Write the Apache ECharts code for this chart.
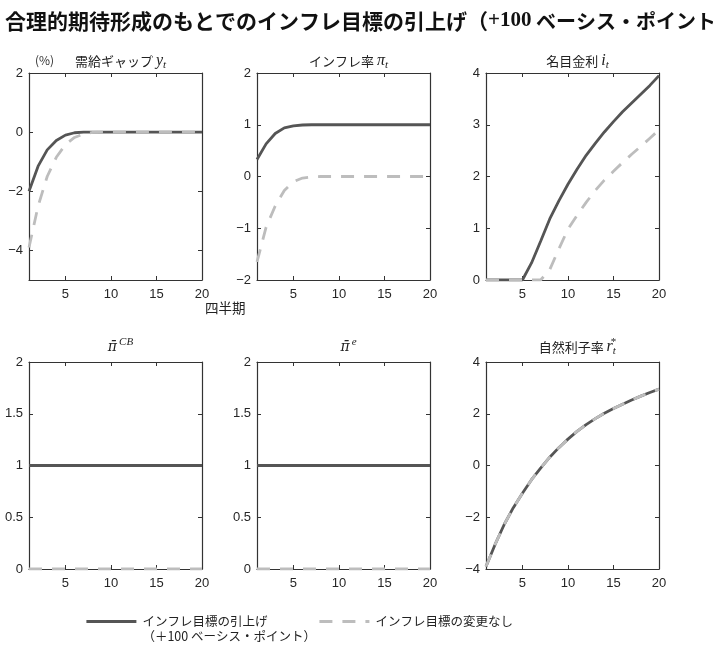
<!DOCTYPE html>
<html>
<head>
<meta charset="utf-8">
<script src="https://cdn.jsdelivr.net/npm/echarts@6/dist/echarts.min.js"></script>
<style>
html,body{margin:0;padding:0;background:#fff;}
#chart{width:713px;height:661px;}
</style>
</head>
<body>
<div id="chart"></div>
<script>
// ---- data ----
const quarters = [1,2,3,4,5,6,7,8,9,10,11,12,13,14,15,16,17,18,19,20];
const seriesNames = ['インフレ目標の引上げ\n（＋100 ベーシス・ポイント）', 'インフレ目標の変更なし'];

const gapRaise    = [-2.0,-1.15,-0.6,-0.28,-0.1,-0.02,0,0,0,0,0,0,0,0,0,0,0,0,0,0];
const gapNoChange = [-3.9,-2.5,-1.5,-0.85,-0.42,-0.18,-0.06,-0.01,0,0,0,0,0,0,0,0,0,0,0,0];

const inflRaise    = [0.33,0.63,0.83,0.94,0.98,0.995,1,1,1,1,1,1,1,1,1,1,1,1,1,1];
const inflNoChange = [-1.65,-0.98,-0.57,-0.27,-0.1,-0.03,-0.01,0,0,0,0,0,0,0,0,0,0,0,0,0];

const rateRaise    = [0,0,0,0,0,0.33,0.75,1.18,1.53,1.85,2.14,2.41,2.64,2.86,3.06,3.25,3.42,3.59,3.76,3.95];
const rateNoChange = [0,0,0,0,0,0,0,0.2,0.6,0.98,1.25,1.5,1.73,1.93,2.1,2.27,2.43,2.58,2.74,2.9];

const cbRaise    = [1,1,1,1,1,1,1,1,1,1,1,1,1,1,1,1,1,1,1,1];
const cbNoChange = [0,0,0,0,0,0,0,0,0,0,0,0,0,0,0,0,0,0,0,0];

const expRaise    = [1,1,1,1,1,1,1,1,1,1,1,1,1,1,1,1,1,1,1,1];
const expNoChange = [0,0,0,0,0,0,0,0,0,0,0,0,0,0,0,0,0,0,0,0];

const natRaise    = [-3.9,-3.05,-2.28,-1.63,-1.07,-0.55,-0.1,0.32,0.69,1.02,1.32,1.58,1.81,2.02,2.2,2.37,2.53,2.68,2.82,2.95];
const natNoChange = [-3.9,-3.05,-2.28,-1.63,-1.07,-0.55,-0.1,0.32,0.69,1.02,1.32,1.58,1.81,2.02,2.2,2.37,2.53,2.68,2.82,2.95];

const xTicks = [5,10,15,20];
const yTicks = [
  [-4,-2,0,2],
  [-2,-1,0,1,2],
  [0,1,2,3,4],
  [0,0.5,1,1.5,2],
  [0,0.5,1,1.5,2],
  [-4,-2,0,2,4]
];
const yRanges = [[-5,2],[-2,2],[0,4],[0,2],[0,2],[-4,4]];
const panelData = [
  [gapRaise, gapNoChange],
  [inflRaise, inflNoChange],
  [rateRaise, rateNoChange],
  [cbRaise, cbNoChange],
  [expRaise, expNoChange],
  [natRaise, natNoChange]
];
const panelTitles = [
  '{j|需給ギャップ }{m|y}{sub|t}',
  '{j|インフレ率 }{m|π}{sub|t}',
  '{j|名目金利 }{m|i}{sub|t}',
  '{p|π̄}{sup|CB}',
  '{p|π̄}{sup|e}',
  '{j|自然利子率 }{m|r}{subsup|t}{supx|*}'
];

// ---- layout ----
const grids = [
  {left:29, top:73, width:173, height:207},
  {left:257, top:73, width:173, height:207},
  {left:486, top:73, width:173, height:207},
  {left:29, top:362, width:173, height:207},
  {left:257, top:362, width:173, height:207},
  {left:486, top:362, width:173, height:207}
];

const frameColor = '#333';
const labelColor = '#262626';
const solidColor = '#555555';
const dashColor = '#bdbdbd';
const fmt = v => String(v).replace('-', '−');

const xAxes = [], yAxes = [], series = [], titles = [];
grids.forEach((g, i) => {
  const common = {
    gridIndex: i,
    type: 'value',
    splitLine: {show:false},
    axisLine: {show:true, onZero:false, lineStyle:{color:frameColor, width:1.2}},
    axisTick: {show:true, inside:true, length:4, lineStyle:{color:frameColor, width:1}},
  };
  xAxes.push(Object.assign({}, common, {
    position:'bottom', min:1, max:20,
    axisTick: Object.assign({}, common.axisTick, {customValues: xTicks}),
    axisLabel: {show:true, customValues: xTicks, color:labelColor, fontSize:13, margin:8, fontFamily:'Liberation Sans, Arial, sans-serif'}
  }));
  xAxes.push(Object.assign({}, common, {
    position:'top', min:1, max:20,
    axisTick: Object.assign({}, common.axisTick, {customValues: xTicks}),
    axisLabel: {show:false}
  }));
  yAxes.push(Object.assign({}, common, {
    position:'left', min:yRanges[i][0], max:yRanges[i][1],
    axisTick: Object.assign({}, common.axisTick, {customValues: yTicks[i]}),
    axisLabel: {show:true, customValues: yTicks[i], formatter: fmt, color:labelColor, fontSize:13, margin:6, fontFamily:'Liberation Sans, Arial, sans-serif'}
  }));
  yAxes.push(Object.assign({}, common, {
    position:'right', min:yRanges[i][0], max:yRanges[i][1],
    axisTick: Object.assign({}, common.axisTick, {customValues: yTicks[i]}),
    axisLabel: {show:false}
  }));
  const [a, b] = panelData[i];
  series.push({
    name: seriesNames[0], type:'line', xAxisIndex: 2*i, yAxisIndex: 2*i,
    data: quarters.map((q,k) => [q, a[k]]),
    symbol:'none', showSymbol:false, smooth:false, z: 2,
    lineStyle:{color:solidColor, width:2.8, type:'solid'},
    itemStyle:{color:solidColor}
  });
  series.push({
    name: seriesNames[1], type:'line', xAxisIndex: 2*i, yAxisIndex: 2*i,
    data: quarters.map((q,k) => [q, b[k]]),
    symbol:'none', showSymbol:false, smooth:false, z: 3,
    lineStyle:{color:dashColor, width:2.8, type:[13,10]},
    itemStyle:{color:dashColor}
  });
  titles.push({
    text: panelTitles[i],
    left: g.left + g.width/2,
    top: g.top - (i < 3 ? 27 : 30),
    textAlign: 'center',
    textStyle: {
      fontWeight: 'normal',
      rich: {
        j: {fontFamily:'Noto Sans CJK JP', fontWeight:'normal', fontSize:13, color:'#222', lineHeight:20},
        m: {fontFamily:'Liberation Serif', fontWeight:'normal', fontStyle:'italic', fontSize:16, color:'#222', lineHeight:20},
        p: {fontFamily:'DejaVu Serif', fontWeight:'normal', fontStyle:'italic', fontSize:14, color:'#222', lineHeight:20, padding:[0,2,0,0]},
        sub: {fontFamily:'Liberation Serif', fontWeight:'normal', fontStyle:'italic', fontSize:11, color:'#222', lineHeight:12, verticalAlign:'bottom'},
        sup: {fontFamily:'Liberation Serif', fontWeight:'normal', fontStyle:'italic', fontSize:11, color:'#222', lineHeight:12, verticalAlign:'top'},
        subsup: {fontFamily:'Liberation Serif', fontWeight:'normal', fontStyle:'italic', fontSize:11, color:'#222', lineHeight:12, verticalAlign:'bottom'},
        supx: {fontFamily:'Liberation Serif', fontWeight:'normal', fontSize:11, color:'#222', lineHeight:12, verticalAlign:'top', padding:[0,0,0,-5]}
      }
    }
  });
});

titles.push({
  text: '{t|合理的期待形成のもとでのインフレ目標の引上げ（}{n|+100}{k| ベーシス・ポイント）}',
  left: 0, top: 3,
  textStyle: {
    rich: {
      t: {fontFamily:'Noto Sans CJK JP', fontWeight:'bold', fontSize:21, color:'#111', lineHeight:26},
      k: {fontFamily:'Noto Sans CJK JP', fontWeight:'bold', fontSize:20, color:'#111', lineHeight:26},
      n: {fontFamily:'Liberation Serif', fontWeight:'bold', fontSize:21, color:'#111', lineHeight:26}
    }
  }
});

const chart = echarts.init(document.getElementById('chart'), null, {renderer:'canvas'});
chart.setOption({
  animation:false,
  backgroundColor:'#fff',
  title: titles,
  grid: grids,
  xAxis: xAxes,
  yAxis: yAxes,
  series: series,
  legend: {
    show: true,
    left: 85, top: 599, padding: 0,
    itemWidth: 50, itemHeight: 14, itemGap: 2,
    itemStyle: {opacity: 0},
    lineStyle: {width: 2.8},
    data: [
      {name: seriesNames[0], textStyle:{padding:[0,0,0,1]}},
      {name: seriesNames[1], textStyle:{padding:[0,0,0,1]}}
    ],
    formatter: name => name === seriesNames[0] ? '\n' + name : name,
    textStyle: {fontFamily:'Noto Sans CJK JP', fontSize:12.5, color:'#222', lineHeight:15},
    selectedMode:false
  },
  graphic: [
    {type:'text', left: 35, top: 54, style:{text:'(%)', font:'12px "Noto Sans CJK JP"', fill:'#333'}},
    {type:'text', left: 205, top: 301, style:{text:'四半期', font:'13.5px "Noto Sans CJK JP"', fill:'#222'}}
  ]
});
</script>
</body>
</html>
